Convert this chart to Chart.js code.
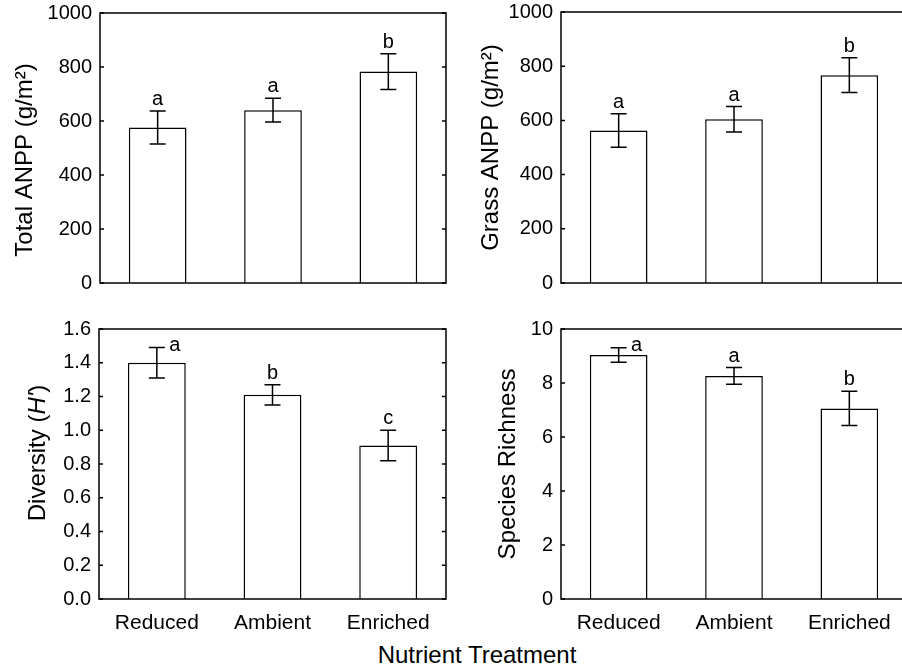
<!DOCTYPE html>
<html>
<head>
<meta charset="utf-8">
<script src="https://cdn.jsdelivr.net/npm/chart.js@4.4.1/dist/chart.umd.min.js"></script>
<style>
html, body { margin: 0; padding: 0; background: #fff; overflow: hidden; width: 902px; height: 668px; }
canvas { position: absolute; }
#xtitle { position: absolute; left: 0; width: 954px; top: 641px; text-align: center;
  font: 24px "Liberation Sans", Arial, sans-serif; color: #000; }
</style>
</head>
<body>
<canvas id="c1" width="451" height="300" style="left:0;top:0"></canvas>
<canvas id="c2" width="460" height="300" style="left:451px;top:0"></canvas>
<canvas id="c3" width="451" height="340" style="left:0;top:300px"></canvas>
<canvas id="c4" width="460" height="340" style="left:451px;top:300px"></canvas>
<div id="xtitle">Nutrient Treatment</div>
<script>
const treatments = ['Reduced', 'Ambient', 'Enriched'];

const totalAnpp = [576, 640, 783];
const totalAnppSe = [61, 44, 66];
const totalLetters = ['a', 'a', 'b'];

const grassAnpp = [563, 604, 767];
const grassAnppSe = [62, 47, 64];
const grassLetters = ['a', 'a', 'b'];

const diversity = [1.40, 1.21, 0.91];
const diversitySe = [0.09, 0.06, 0.09];
const diversityLetters = ['a', 'b', 'c'];

const richness = [9.04, 8.26, 7.06];
const richnessSe = [0.27, 0.31, 0.63];
const richnessLetters = ['a', 'a', 'b'];

const anppTicks = [0, 200, 400, 600, 800, 1000];
const diversityTicks = [0, 0.2, 0.4, 0.6, 0.8, 1.0, 1.2, 1.4, 1.6];
const richnessTicks = [0, 2, 4, 6, 8, 10];

const FONT = '"Liberation Sans", Arial, sans-serif';

// error bars, letters, box frame, inward ticks and the y title
const panelDecor = {
    id: 'panelDecor',
    afterDatasetsDraw(chart, args, opts) {
        const { ctx, chartArea: a } = chart;
        const y = chart.scales.y;
        const values = chart.data.datasets[0].data;
        const meta = chart.getDatasetMeta(0);
        ctx.save();
        ctx.strokeStyle = '#000';
        ctx.fillStyle = '#000';
        ctx.lineWidth = 1.5;

        meta.data.forEach((bar, i) => {
            const cx = bar.x;
            const top = y.getPixelForValue(values[i] + opts.errors[i]);
            const bot = y.getPixelForValue(values[i] - opts.errors[i]);
            ctx.beginPath();
            ctx.moveTo(cx, top); ctx.lineTo(cx, bot);
            ctx.moveTo(cx - 8, top); ctx.lineTo(cx + 8, top);
            ctx.moveTo(cx - 8, bot); ctx.lineTo(cx + 8, bot);
            ctx.stroke();

            ctx.font = '20px ' + FONT;
            ctx.textAlign = 'center';
            ctx.textBaseline = 'alphabetic';
            if (top - 24 < a.top) {
                ctx.fillText(opts.letters[i], cx + 18, top + 3);
            } else {
                ctx.fillText(opts.letters[i], cx, top - 6);
            }
        });

        ctx.strokeRect(a.left, a.top, a.right - a.left, a.bottom - a.top);

        y.ticks.forEach(t => {
            const py = y.getPixelForValue(t.value);
            ctx.beginPath();
            ctx.moveTo(a.left, py); ctx.lineTo(a.left + 4, py);
            ctx.moveTo(a.right, py); ctx.lineTo(a.right - 4, py);
            ctx.stroke();
        });

        // rotated title, built from plain and italic pieces
        ctx.translate(opts.titleX, (a.top + a.bottom) / 2 + opts.titleShift);
        ctx.rotate(-Math.PI / 2);
        ctx.textAlign = 'left';
        ctx.textBaseline = 'alphabetic';
        let w = 0;
        opts.title.forEach(p => {
            ctx.font = (p.italic ? 'italic ' : '') + '24px ' + FONT;
            w += ctx.measureText(p.text).width;
        });
        let px = -w / 2;
        opts.title.forEach(p => {
            ctx.font = (p.italic ? 'italic ' : '') + '24px ' + FONT;
            ctx.fillText(p.text, px, 0);
            px += ctx.measureText(p.text).width;
        });
        ctx.restore();
    }
};

function makePanel(id, cfg) {
    return new Chart(document.getElementById(id), {
        type: 'bar',
        data: {
            labels: treatments,
            datasets: [{
                data: cfg.values,
                backgroundColor: '#fff',
                borderColor: '#000',
                borderWidth: 1.5,
                barPercentage: 0.5,
                categoryPercentage: 1
            }]
        },
        options: {
            responsive: false,
            animation: false,
            layout: { padding: { top: cfg.top, right: cfg.right, left: 0, bottom: 0 } },
            scales: {
                x: {
                    grid: { display: false, drawTicks: false },
                    border: { display: false },
                    ticks: {
                        display: cfg.showX,
                        padding: 12,
                        color: '#000',
                        font: { size: 21, family: FONT }
                    },
                    afterFit: s => {
                        s.height = cfg.xHeight;
                        s.paddingLeft = 0;
                        s.paddingRight = 0;
                    }
                },
                y: {
                    min: cfg.ticks[0],
                    max: cfg.ticks[cfg.ticks.length - 1],
                    grid: { display: false, drawTicks: false },
                    border: { display: false },
                    afterBuildTicks: s => { s.ticks = cfg.ticks.map(v => ({ value: v })); },
                    afterFit: s => {
                        s.width = cfg.yWidth;
                        s.paddingTop = 0;
                        s.paddingBottom = 0;
                    },
                    ticks: {
                        padding: 8,
                        color: '#000',
                        font: { size: 20, family: FONT },
                        callback: v => cfg.decimals ? Number(v).toFixed(cfg.decimals) : v
                    }
                }
            },
            plugins: {
                legend: { display: false },
                tooltip: { enabled: false },
                panelDecor: {
                    errors: cfg.errors,
                    letters: cfg.letters,
                    title: cfg.title,
                    titleX: cfg.titleX,
                    titleShift: cfg.titleShift
                }
            }
        },
        plugins: [panelDecor]
    });
}

makePanel('c1', {
    values: totalAnpp, errors: totalAnppSe, letters: totalLetters, ticks: anppTicks,
    title: [{ text: 'Total ANPP (g/m\u00B2)' }], titleX: 32, titleShift: 12,
    top: 13, right: 5, yWidth: 100, xHeight: 17, showX: false
});
makePanel('c2', {
    values: grassAnpp, errors: grassAnppSe, letters: grassLetters, ticks: anppTicks,
    title: [{ text: 'Grass ANPP (g/m\u00B2)' }], titleX: 47, titleShift: 0,
    top: 12, right: 4, yWidth: 110, xHeight: 17, showX: false
});
makePanel('c3', {
    values: diversity, errors: diversitySe, letters: diversityLetters, ticks: diversityTicks, decimals: 1,
    title: [{ text: 'Diversity (' }, { text: "H'", italic: true }, { text: ')' }], titleX: 45, titleShift: -11,
    top: 29, right: 5, yWidth: 99, xHeight: 41, showX: true
});
makePanel('c4', {
    values: richness, errors: richnessSe, letters: richnessLetters, ticks: richnessTicks,
    title: [{ text: 'Species Richness' }], titleX: 64, titleShift: 0,
    top: 29, right: 4, yWidth: 110, xHeight: 41, showX: true
});
</script>
</body>
</html>
